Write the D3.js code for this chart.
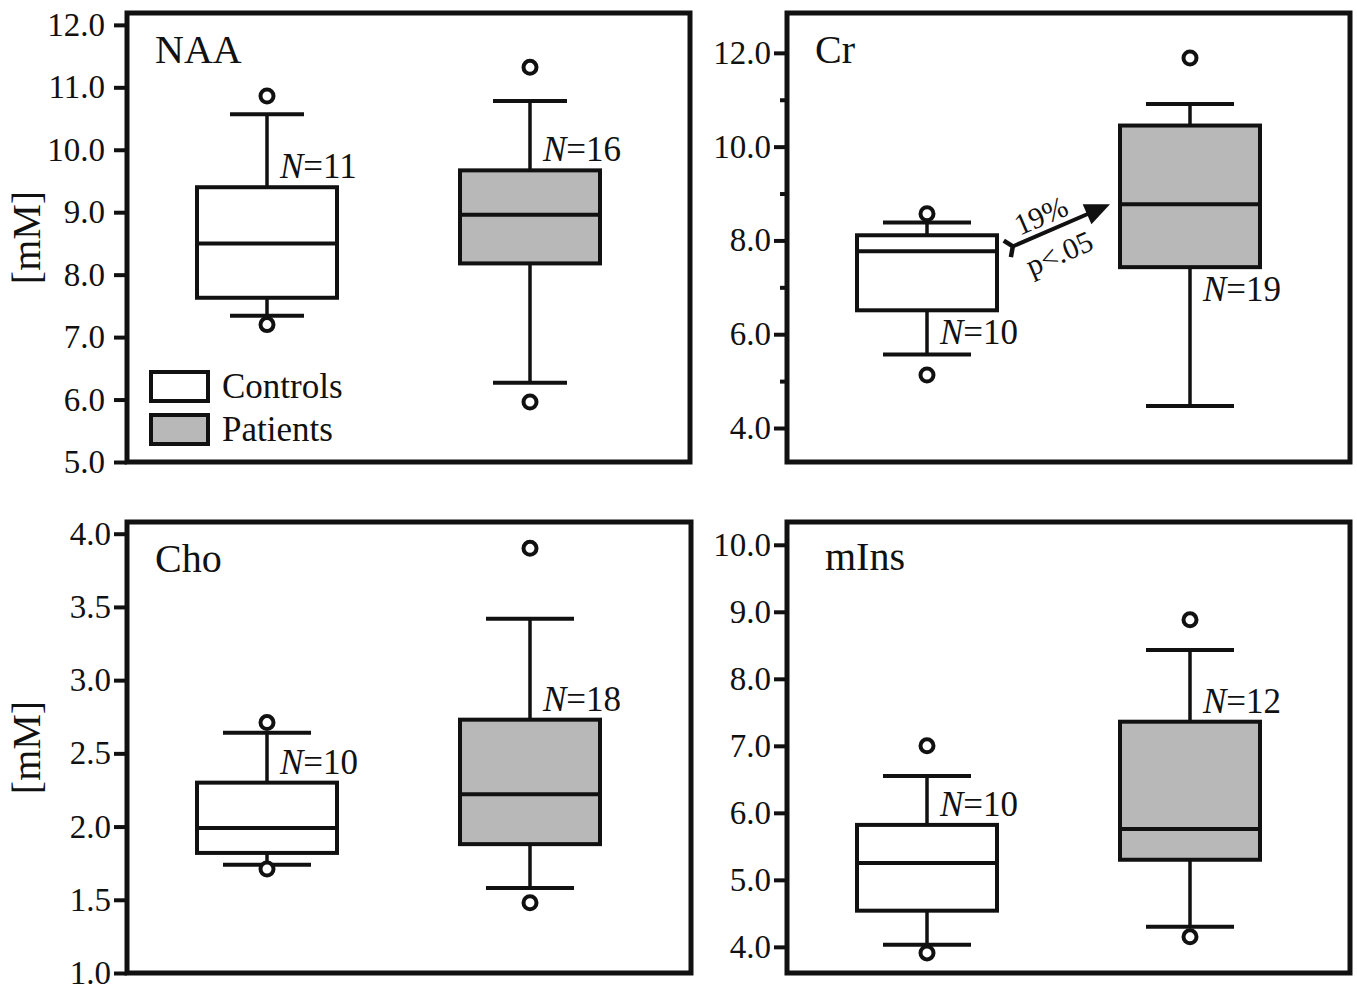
<!DOCTYPE html>
<html>
<head>
<meta charset="utf-8">
<script src="https://cdn.jsdelivr.net/npm/d3@7/dist/d3.min.js"></script>
<style>
body{margin:0;background:#fff;}
text{font-family:"Liberation Serif","Times New Roman",serif;fill:#111;}
</style>
<title>MRS metabolites</title>
</head>
<body>
<div id="graph"></div>
<script>
var groups = ["Controls", "Patients"];
var groupFill = ["#ffffff", "#b8b8b8"];

// each box: [lower whisker, Q1, median, Q3, upper whisker]
var naaBoxes = [[7.34, 7.63, 8.50, 9.40, 10.57], [6.27, 8.18, 8.96, 9.67, 10.78]];
var naaOutliers = [[7.20, 10.86], [5.96, 11.32]];
var naaN = [11, 16];
var naaTicks = [5, 6, 7, 8, 9, 10, 11, 12];

var crBoxes = [[5.57, 6.51, 7.77, 8.11, 8.38], [4.47, 7.43, 8.77, 10.45, 10.91]];
var crOutliers = [[5.13, 8.57], [11.89]];
var crN = [10, 19];
var crTicks = [4, 6, 8, 10, 12];
var crMinor = [5, 7, 9, 11];

var choBoxes = [[1.74, 1.82, 1.99, 2.30, 2.64], [1.58, 1.88, 2.22, 2.73, 3.42]];
var choOutliers = [[1.71, 2.71], [1.48, 3.90]];
var choN = [10, 18];
var choTicks = [1.0, 1.5, 2.0, 2.5, 3.0, 3.5, 4.0];

var minsBoxes = [[4.03, 4.54, 5.25, 5.82, 6.55], [4.30, 5.30, 5.76, 7.36, 8.43]];
var minsOutliers = [[3.91, 7.00], [4.15, 8.88]];
var minsN = [10, 12];
var minsTicks = [4, 5, 6, 7, 8, 9, 10];

var width = 1357, height = 988;
var svg = d3.select('#graph').append('svg').attr('width', width).attr('height', height);

var panels = [
  {name: "NAA", boxes: naaBoxes, outliers: naaOutliers, n: naaN, nPos: ["top", "top"], ticks: naaTicks, minor: [],
   domain: [5, 12.19], left: 127, top: 13, w: 563, h: 449, cap: 37, pad: 9, ylabel: true, legend: true},
  {name: "Cr", boxes: crBoxes, outliers: crOutliers, n: crN, nPos: ["bottom", "bottom"], ticks: crTicks, minor: crMinor,
   domain: [3.275, 12.85], left: 787, top: 13, w: 563, h: 449, cap: 44, pad: 3, arrow: true},
  {name: "Cho", boxes: choBoxes, outliers: choOutliers, n: choN, nPos: ["top", "top"], ticks: choTicks, minor: [],
   domain: [1, 4.08], left: 127, top: 522, w: 564, h: 451, cap: 44, pad: 3, ylabel: true},
  {name: "mIns", boxes: minsBoxes, outliers: minsOutliers, n: minsN, nPos: ["top", "top"], ticks: minsTicks, minor: [],
   domain: [3.61, 10.34], left: 787, top: 522, w: 563, h: 451, cap: 44, pad: 3}
];

var boxW = 140;

panels.forEach(function(p) {
  var g = svg.append('g').attr('transform', 'translate(' + p.left + ',' + p.top + ')');
  var y = d3.scaleLinear().domain(p.domain).range([p.h, 0]);
  var x = d3.scalePoint().domain(groups).range([140, 403]);

  // axis ticks
  var ax = g.append('g').call(d3.axisLeft(y).tickValues(p.ticks).tickFormat(d3.format('.1f')).tickSize(13).tickPadding(p.pad));
  ax.select('.domain').remove();
  ax.selectAll('line').attr('stroke', '#111').attr('stroke-width', 4);
  ax.selectAll('text').style('font-size', '33px').attr('fill', '#111').attr('font-family', '"Liberation Serif", serif');
  if (p.minor.length) {
    var mx = g.append('g').call(d3.axisLeft(y).tickValues(p.minor).tickFormat('').tickSize(7));
    mx.select('.domain').remove();
    mx.selectAll('line').attr('stroke', '#111').attr('stroke-width', 4);
  }

  // boxes
  groups.forEach(function(grp, i) {
    var b = p.boxes[i], cx = x(grp);
    var bg = g.append('g');
    bg.append('line').attr('x1', cx).attr('x2', cx).attr('y1', y(b[0])).attr('y2', y(b[1]))
      .attr('stroke', '#111').attr('stroke-width', 3.5);
    bg.append('line').attr('x1', cx).attr('x2', cx).attr('y1', y(b[3])).attr('y2', y(b[4]))
      .attr('stroke', '#111').attr('stroke-width', 3.5);
    [b[0], b[4]].forEach(function(v) {
      bg.append('line').attr('x1', cx - p.cap).attr('x2', cx + p.cap).attr('y1', y(v)).attr('y2', y(v))
        .attr('stroke', '#111').attr('stroke-width', 4);
    });
    bg.append('rect').attr('x', cx - boxW / 2).attr('width', boxW)
      .attr('y', y(b[3])).attr('height', y(b[1]) - y(b[3]))
      .attr('fill', groupFill[i]).attr('stroke', '#111').attr('stroke-width', 4);
    bg.append('line').attr('x1', cx - boxW / 2).attr('x2', cx + boxW / 2).attr('y1', y(b[2])).attr('y2', y(b[2]))
      .attr('stroke', '#111').attr('stroke-width', 4);
    bg.selectAll('circle').data(p.outliers[i]).enter().append('circle')
      .attr('cx', cx).attr('cy', function(d) { return y(d); }).attr('r', 6.5)
      .attr('fill', '#fff').attr('stroke', '#111').attr('stroke-width', 4);

    var ty = p.nPos[i] === "top" ? y(b[3]) - 9 : y(b[1]) + 34;
    var t = bg.append('text').attr('x', cx + 13).attr('y', ty).style('font-size', '35px');
    t.append('tspan').attr('font-style', 'italic').text('N');
    t.append('tspan').text('=' + p.n[i]);
  });

  // frame
  g.append('rect').attr('width', p.w).attr('height', p.h)
    .attr('fill', 'none').attr('stroke', '#111').attr('stroke-width', 5);

  g.append('text').attr('x', p.name === "mIns" ? 38 : 28).attr('y', p.name === "mIns" ? 48 : 50)
    .style('font-size', '40px').text(p.name);

  if (p.ylabel) {
    svg.append('text').attr('transform', 'translate(40,' + (p.top + p.h / 2) + ') rotate(-90)')
      .attr('text-anchor', 'middle').style('font-size', '40px').text('[mM]');
  }

  if (p.legend) {
    var lg = g.append('g').attr('transform', 'translate(24,359)');
    groups.forEach(function(grp, i) {
      lg.append('rect').attr('x', 0).attr('y', i * 43).attr('width', 57).attr('height', 29)
        .attr('fill', groupFill[i]).attr('stroke', '#111').attr('stroke-width', 4);
      lg.append('text').attr('x', 71).attr('y', i * 43 + 26).style('font-size', '35px').text(grp);
    });
  }

  if (p.arrow) {
    var x0 = x(groups[0]) + boxW / 2 + 14, y0 = y(p.boxes[0][2]) - 4;
    var x1 = x(groups[1]) - boxW / 2 - 10, y1 = y(p.boxes[1][2]);
    var ang = Math.atan2(y1 - y0, x1 - x0) * 180 / Math.PI;
    var len = Math.hypot(x1 - x0, y1 - y0);
    var ag = g.append('g').attr('transform', 'translate(' + x0 + ',' + y0 + ') rotate(' + ang + ')');
    ag.append('line').attr('x1', 0).attr('x2', len - 18).attr('y1', 0).attr('y2', 0)
      .attr('stroke', '#111').attr('stroke-width', 4);
    ag.append('path').attr('d', 'M' + len + ',0 L' + (len - 25) + ',-11 L' + (len - 25) + ',11 Z').attr('fill', '#111');
    ag.append('path').attr('d', 'M-4,-9 L2,0 L-4,9').attr('fill', 'none').attr('stroke', '#111').attr('stroke-width', 4.5);
    ag.append('text').attr('x', len / 2 - 14).attr('y', -7).attr('text-anchor', 'middle')
      .style('font-size', '30px').text('19%');
    ag.append('text').attr('x', len / 2 - 12).attr('y', 35).attr('text-anchor', 'middle')
      .style('font-size', '30px').text('p<.05');
  }
});
</script>
</body>
</html>
